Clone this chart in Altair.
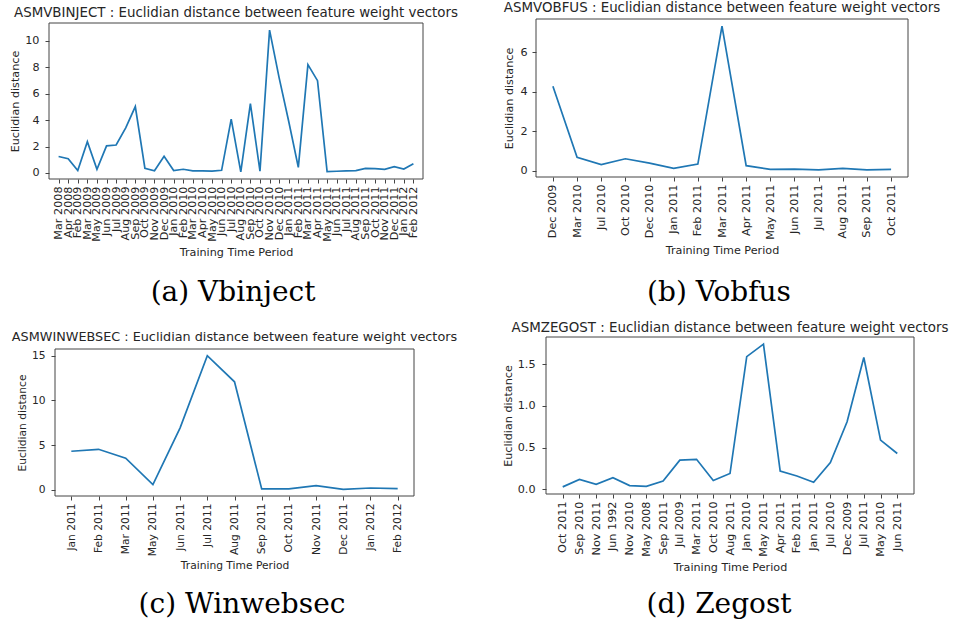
import altair as alt
import pandas as pd

# ---------- data ----------
a_labels = ["Mar 2008", "Apr 2008", "Feb 2009", "Mar 2009", "May 2009", "Jun 2009", "Jul 2009",
            "Aug 2009", "Sep 2009", "Oct 2009", "Nov 2009", "Dec 2009", "Jan 2010", "Feb 2010",
            "Mar 2010", "Apr 2010", "May 2010", "Jun 2010", "Jul 2010", "Aug 2010", "Sep 2010",
            "Oct 2010", "Nov 2010", "Dec 2010", "Jan 2011", "Feb 2011", "Mar 2011", "Apr 2011",
            "May 2011", "Jun 2011", "Jul 2011", "Aug 2011", "Sep 2011", "Oct 2011", "Nov 2011",
            "Dec 2011", "Jan 2012", "Feb 2012"]
a_values = [1.25, 1.08, 0.18, 2.37, 0.27, 2.05, 2.12, 3.42, 5.03, 0.36, 0.17, 1.27, 0.18, 0.28,
            0.16, 0.16, 0.14, 0.2, 4.08, 0.08, 5.26, 0.13, 10.82, 7.2, 3.9, 0.42, 8.2, 6.99,
            0.1, 0.13, 0.16, 0.18, 0.35, 0.33, 0.28, 0.48, 0.3, 0.7]

b_labels = ["Dec 2009", "Mar 2010", "Jul 2010", "Oct 2010", "Dec 2010", "Jan 2011", "Feb 2011",
            "Mar 2011", "Apr 2011", "May 2011", "Jun 2011", "Jul 2011", "Aug 2011", "Sep 2011",
            "Oct 2011"]
b_values = [4.29, 0.68, 0.31, 0.61, 0.39, 0.12, 0.34, 7.33, 0.26, 0.07, 0.09, 0.05, 0.12, 0.05, 0.07]

c_labels = ["Jan 2011", "Feb 2011", "Mar 2011", "May 2011", "Jun 2011", "Jul 2011", "Aug 2011",
            "Sep 2011", "Oct 2011", "Nov 2011", "Dec 2011", "Jan 2012", "Feb 2012"]
c_values = [4.32, 4.54, 3.55, 0.59, 6.94, 15.0, 12.08, 0.11, 0.11, 0.48, 0.07, 0.22, 0.15]

d_labels = ["Oct 2011", "Sep 2010", "Nov 2011", "Jun 1992", "Nov 2010", "May 2008", "Sep 2011",
            "Jul 2009", "Mar 2011", "Oct 2010", "Aug 2011", "Jan 2010", "May 2011", "Apr 2011",
            "Feb 2011", "Jan 2011", "Jul 2010", "Dec 2009", "Jul 2011", "May 2010", "Jun 2011"]
d_values = [0.03, 0.12, 0.06, 0.14, 0.045, 0.037, 0.10, 0.35, 0.36, 0.106, 0.19, 1.59, 1.74,
            0.22, 0.16, 0.086, 0.32, 0.81, 1.58, 0.59, 0.43]

a_ticks = [0, 2, 4, 6, 8, 10]
b_ticks = [0, 2, 4, 6]
c_ticks = [0, 5, 10, 15]
d_ticks = [0.0, 0.5, 1.0, 1.5]

TXT = "#262626"
FRAME = "#444444"
CW, CH = 476, 313  # size of each sub-figure cell


def panel(labels, values, ticks, fmt, title, caption, box, fonts, ypad, cap_xy, title_y):
    L, T, W, H = box
    title_fs, tick_fs = fonts
    lab_pad, title_pad = ypad
    n = len(labels)
    df = pd.DataFrame({"period": labels, "dist": values, "order": list(range(n))})
    lo, hi = min(values), max(values)
    r = hi - lo
    dom = [lo - 0.05 * r, hi + 0.05 * r]
    line = alt.Chart(df).mark_line(color="#1f77b4", strokeWidth=1.7).encode(
        x=alt.X("period:N", sort=None,
                scale=alt.Scale(type="point", padding=0.05 * (n - 1), range=[L, L + W]),
                axis=alt.Axis(title="Training Time Period", orient="bottom",
                              offset=-(CH - T - H), labelAngle=-90, labelOverlap=False,
                              labelFontSize=tick_fs, labelPadding=3, tickSize=4,
                              titleFontSize=tick_fs, titlePadding=5, titleFontWeight="normal",
                              grid=False, domain=False)),
        y=alt.Y("dist:Q", scale=alt.Scale(domain=dom, nice=False, zero=False, range=[T + H, T]),
                axis=alt.Axis(title="Euclidian distance", orient="left", offset=-L,
                              values=ticks, format=fmt,
                              labelFontSize=tick_fs, labelPadding=lab_pad, tickSize=4,
                              titleFontSize=tick_fs, titlePadding=title_pad,
                              titleFontWeight="normal", labelFlush=False, grid=False,
                              domain=False)),
        order="order:Q",
    )
    frame = alt.Chart(pd.DataFrame({"k": [0]})).mark_rect(
        fill="transparent", stroke=FRAME, strokeWidth=1
    ).encode(x=alt.value(L), x2=alt.value(L + W), y=alt.value(T), y2=alt.value(T + H))
    ttl = alt.Chart(pd.DataFrame({"t": [title]})).mark_text(
        font="DejaVu Sans", fontSize=title_fs, align="center", baseline="middle", color=TXT
    ).encode(text="t:N", x=alt.value(L + W / 2), y=alt.value(title_y))
    cap = alt.Chart(pd.DataFrame({"c": [caption]})).mark_text(
        font="DejaVu Serif", fontSize=28, align="center", baseline="middle", color="black"
    ).encode(text="c:N", x=alt.value(cap_xy[0]), y=alt.value(cap_xy[1]))
    return alt.layer(line, frame, ttl, cap).properties(width=CW, height=CH)


pa = panel(a_labels, a_values, a_ticks, "d",
           "ASMVBINJECT : Euclidian distance between feature weight vectors",
           "(a) Vbinject", (49, 23, 374, 156), (13.4, 11.2), (6, 4.6), (233, 293), 13.3)
pb = panel(b_labels, b_values, b_ticks, "d",
           "ASMVOBFUS : Euclidian distance between feature weight vectors",
           "(b) Vobfus", (60, 19, 372, 158), (13.4, 11.2), (5, 5.7), (243, 293), 8.3)
pc = panel(c_labels, c_values, c_ticks, "d",
           "ASMWINWEBSEC : Euclidian distance between feature weight vectors",
           "(c) Winwebsec", (55, 36, 359, 147), (12.8, 10.7), (6, 3.5), (242, 292), 24.3)
pd_ = panel(d_labels, d_values, d_ticks, ".1f",
            "ASMZEGOST : Euclidian distance between feature weight vectors",
            "(d) Zegost", (70, 24, 368, 157), (13.4, 11.2), (7, 4), (243, 292), 15.3)

chart = alt.concat(pa, pb, pc, pd_, columns=2, spacing=0, bounds="flush").properties(
    padding=0, background="white",
).configure_view(
    stroke="transparent", strokeWidth=0
).configure_axis(
    tickColor=FRAME, labelColor=TXT, titleColor=TXT,
    labelFont="DejaVu Sans", titleFont="DejaVu Sans"
)

chart.save("out.html", embed_options={"renderer": "svg", "actions": False})
